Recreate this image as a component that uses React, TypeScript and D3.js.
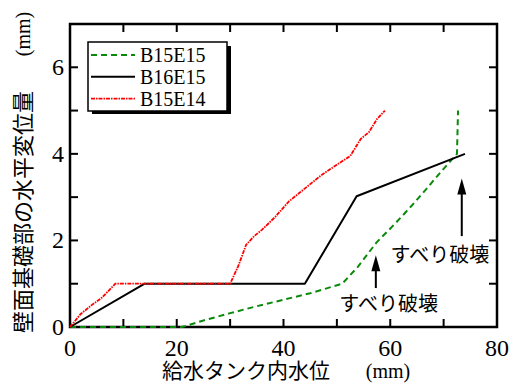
import React from 'react'
import * as d3 from 'd3';

// series: [water level (mm), displacement (mm)]
const b15e15: [number, number][] = [
  [0, 0], [21, 0], [25, 0.15], [30, 0.32], [35, 0.48], [40, 0.63], [45, 0.78],
  [51, 1.0], [54, 1.4], [57.4, 1.95], [61, 2.4], [64, 2.8], [66.5, 3.15],
  [69.6, 3.6], [72.5, 4.0], [72.7, 5.0]
];
const b16e15: [number, number][] = [
  [0, 0], [14, 1], [44, 1], [53.7, 3.02], [74, 4]
];
const b15e14: [number, number][] = [
  [0, 0], [2, 0.3], [4, 0.5], [6, 0.68], [8.5, 1], [30, 1], [31.5, 1.4],
  [33, 1.9], [34.5, 2.1], [36, 2.25], [38.5, 2.55], [41, 2.9], [43, 3.1],
  [47, 3.5], [50, 3.75], [52.5, 3.95], [53.5, 4.15], [54.5, 4.35], [56, 4.5],
  [57.5, 4.8], [59, 5.0]
];
const seriesNames = ['B15E15', 'B16E15', 'B15E14'];

const xTicks = [0, 10, 20, 30, 40, 50, 60, 70, 80];
const xLabels = [0, 20, 40, 60, 80];
const yTicks = [0, 1, 2, 3, 4, 5, 6, 7];
const yLabels = [0, 2, 4, 6];

// arrow annotations: x, bottom y, tip y, label x, label y
const notes = [
  { x: 73.4, y0: 2.1, y1: 3.43, tx: 69.3, ty: 1.66, text: 'すべり破壊' },
  { x: 57.3, y0: 0.9, y1: 1.66, tx: 59.7, ty: 0.53, text: 'すべり破壊' }
];

const W = 511, H = 383;
const m = { left: 70, right: 14, top: 24, bottom: 56 };

export default function App() {
  const x = d3.scaleLinear().domain([0, 80]).range([m.left, W - m.right]);
  const y = d3.scaleLinear().domain([0, 7]).range([H - m.bottom, m.top]);
  const line = d3.line<[number, number]>().x(d => x(d[0])).y(d => y(d[1]));

  const styles = [
    { data: b15e15, color: '#0a8a0a', dash: '6,4', width: 2 },
    { data: b16e15, color: '#000', dash: null, width: 2 },
    { data: b15e14, color: '#ff0000', dash: '4,1,1.5,1', width: 1.8 }
  ];

  const serif = 'Liberation Serif, Times New Roman, Times, DejaVu Serif, serif';
  const jp = 'Noto Sans CJK JP, sans-serif';
  const tickLen = 8;
  const x0 = x(0), x1 = x(80), y0 = y(0), y1 = y(7);

  return (
    <svg width={W} height={H} style={{ position: 'absolute', left: 0, top: 0 }}>
      <rect width={W} height={H} fill="#fff" />

      {/* frame + ticks */}
      <rect x={x0} y={y1} width={x1 - x0} height={y0 - y1} fill="none" stroke="#000" strokeWidth={2.5} />
      {xTicks.map(t => (
        <g key={'x' + t}>
          <line x1={x(t)} x2={x(t)} y1={y0} y2={y0 - tickLen} stroke="#000" strokeWidth={2} />
          <line x1={x(t)} x2={x(t)} y1={y1} y2={y1 + tickLen} stroke="#000" strokeWidth={2} />
        </g>
      ))}
      {yTicks.map(t => (
        <g key={'y' + t}>
          <line x1={x0} x2={x0 + tickLen} y1={y(t)} y2={y(t)} stroke="#000" strokeWidth={2} />
          <line x1={x1} x2={x1 - tickLen} y1={y(t)} y2={y(t)} stroke="#000" strokeWidth={2} />
        </g>
      ))}
      {xLabels.map(t => (
        <text key={'xl' + t} x={x(t)} y={y0 + 29} textAnchor="middle" fontFamily={serif} fontSize={24}>{t}</text>
      ))}
      {yLabels.map(t => (
        <text key={'yl' + t} x={x0 - 6} y={y(t) + 8} textAnchor="end" fontFamily={serif} fontSize={24}>{t}</text>
      ))}

      {/* series, drawn over the frame like the original */}
      {styles.map((s, i) => (
        <path key={i} d={line(s.data) || ''} fill="none" stroke={s.color}
          strokeWidth={s.width} strokeDasharray={s.dash || undefined} strokeLinejoin="round" />
      ))}

      {/* axis titles */}
      <text x={246} y={378} textAnchor="middle" fontFamily={jp} fontSize={21}>給水タンク内水位</text>
      <text x={388} y={378} textAnchor="middle" fontFamily={serif} fontSize={20}>(mm)</text>
      <text transform="translate(31,212) rotate(-90)" textAnchor="middle" fontFamily={jp} fontSize={22}>壁面基礎部の水平変位量</text>
      <text transform="translate(30,34) rotate(-90)" textAnchor="middle" fontFamily={serif} fontSize={20}>(mm)</text>

      {/* annotations */}
      {notes.map((n, i) => (
        <g key={'n' + i}>
          <line x1={x(n.x)} x2={x(n.x)} y1={y(n.y0)} y2={y(n.y1) + 12} stroke="#000" strokeWidth={2} />
          <path d={`M${x(n.x)},${y(n.y1)} L${x(n.x) - 4.5},${y(n.y1) + 16} L${x(n.x) + 4.5},${y(n.y1) + 16} Z`} fill="#000" />
          <text x={x(n.tx)} y={y(n.ty) + 7} textAnchor="middle" fontFamily={jp} fontSize={20}>{n.text}</text>
        </g>
      ))}

      {/* legend */}
      <rect x={92} y={46} width={139} height={68} fill="#000" />
      <rect x={88} y={42} width={139} height={69} fill="#fff" stroke="#000" strokeWidth={1.5} />
      {styles.map((s, i) => (
        <g key={'lg' + i}>
          <line x1={91} x2={135} y1={55 + i * 21.8} y2={55 + i * 21.8} stroke={s.color}
            strokeWidth={s.width} strokeDasharray={s.dash || undefined} />
          <text x={140} y={62 + i * 21.8} fontFamily={serif} fontSize={20}>{seriesNames[i]}</text>
        </g>
      ))}
    </svg>
  )
}
